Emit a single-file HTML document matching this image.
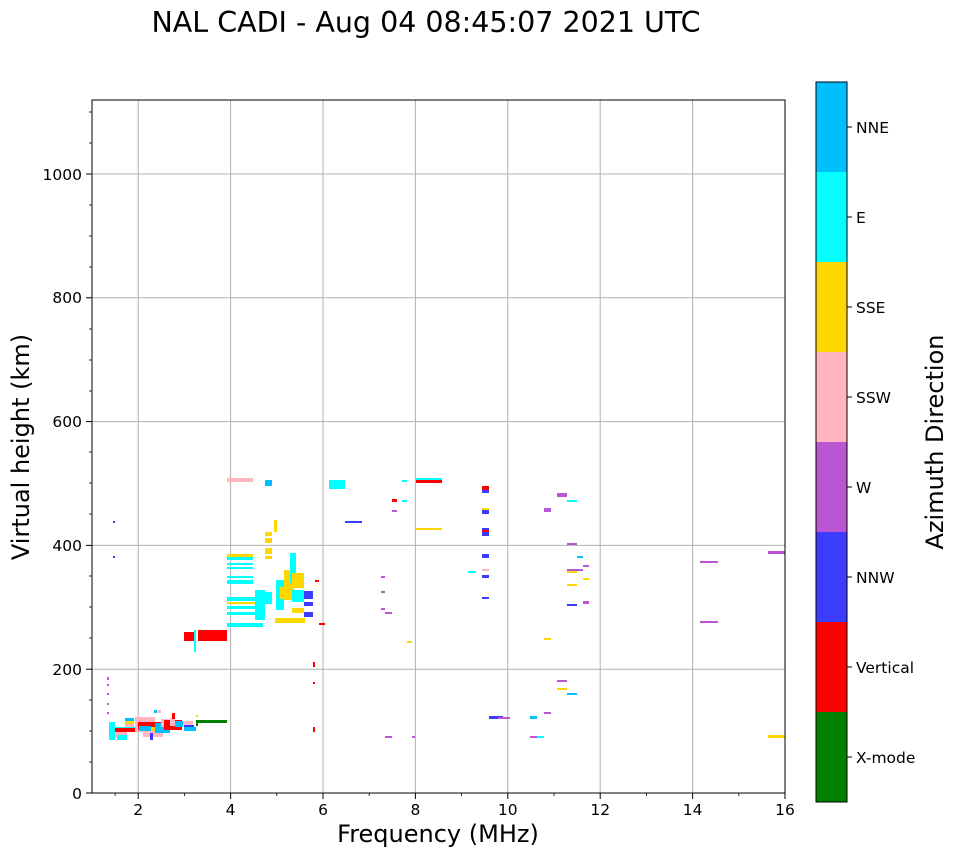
<!DOCTYPE html>
<html><head><meta charset="utf-8"><style>
body{margin:0;background:#fff;}
svg text{font-family:"DejaVu Sans","Liberation Sans",sans-serif;fill:#000;}
</style></head><body>
<svg width="958" height="857" xmlns="http://www.w3.org/2000/svg">
<rect width="958" height="857" fill="#fff"/>
<text x="426" y="32" font-size="28.5" text-anchor="middle">NAL CADI - Aug 04 08:45:07 2021 UTC</text>
<!-- grid -->
<g stroke="#b0b0b0" stroke-width="1">
<line x1="138.2" y1="100" x2="138.2" y2="793"/><line x1="230.6" y1="100" x2="230.6" y2="793"/>
<line x1="323" y1="100" x2="323" y2="793"/><line x1="415.4" y1="100" x2="415.4" y2="793"/>
<line x1="507.8" y1="100" x2="507.8" y2="793"/><line x1="600.2" y1="100" x2="600.2" y2="793"/>
<line x1="692.6" y1="100" x2="692.6" y2="793"/>
<line x1="92" y1="669.2" x2="785" y2="669.2"/><line x1="92" y1="545.4" x2="785" y2="545.4"/>
<line x1="92" y1="421.6" x2="785" y2="421.6"/><line x1="92" y1="297.8" x2="785" y2="297.8"/>
<line x1="92" y1="174" x2="785" y2="174"/>
</g>
<!-- data -->
<g>
<rect x="227" y="478" width="26" height="4" fill="#ffb6c1"/>
<rect x="265" y="480" width="7" height="6" fill="#00bfff"/>
<rect x="329" y="480" width="16" height="9" fill="#00ffff"/>
<rect x="184" y="632" width="11" height="9" fill="#ff0000"/>
<rect x="198" y="630" width="29" height="11" fill="#ff0000"/>
<rect x="194" y="630" width="2" height="22" fill="#00ffff"/>
<rect x="227" y="554" width="26" height="3" fill="#ffd700"/>
<rect x="227" y="557" width="26" height="3" fill="#00ffff"/>
<rect x="227" y="563" width="26" height="2" fill="#00ffff"/>
<rect x="227" y="567" width="26" height="2" fill="#00ffff"/>
<rect x="227" y="576" width="26" height="2" fill="#00ffff"/>
<rect x="227" y="580" width="26" height="4" fill="#00ffff"/>
<rect x="227" y="597" width="30" height="4" fill="#00ffff"/>
<rect x="227" y="602" width="30" height="2" fill="#ffd700"/>
<rect x="227" y="606" width="30" height="3" fill="#00ffff"/>
<rect x="227" y="612" width="30" height="3" fill="#00ffff"/>
<rect x="227" y="623" width="36" height="4" fill="#00ffff"/>
<rect x="255" y="590" width="10" height="30" fill="#00ffff"/>
<rect x="265" y="532" width="7" height="4" fill="#ffd700"/>
<rect x="265" y="538" width="7" height="5" fill="#ffd700"/>
<rect x="265" y="548" width="7" height="6" fill="#ffd700"/>
<rect x="265" y="556" width="7" height="3" fill="#ffd700"/>
<rect x="274" y="520" width="3" height="12" fill="#ffd700"/>
<rect x="257" y="592" width="15" height="12" fill="#00ffff"/>
<rect x="276" y="580" width="8" height="30" fill="#00ffff"/>
<rect x="280" y="587" width="7" height="12" fill="#ffd700"/>
<rect x="284" y="570" width="10" height="30" fill="#ffd700"/>
<rect x="290" y="553" width="6" height="30" fill="#00ffff"/>
<rect x="292" y="573" width="12" height="15" fill="#ffd700"/>
<rect x="292" y="590" width="12" height="12" fill="#00ffff"/>
<rect x="292" y="608" width="12" height="5" fill="#ffd700"/>
<rect x="304" y="591" width="9" height="8" fill="#3c3cff"/>
<rect x="304" y="602" width="9" height="4" fill="#3c3cff"/>
<rect x="304" y="612" width="9" height="5" fill="#3c3cff"/>
<rect x="275" y="618" width="30" height="5" fill="#ffd700"/>
<rect x="315" y="580" width="4" height="2" fill="#ff0000"/>
<rect x="319" y="623" width="6" height="2" fill="#ff0000"/>
<rect x="313" y="662" width="2" height="5" fill="#ff0000"/>
<rect x="313" y="682" width="2" height="2" fill="#ff0000"/>
<rect x="313" y="727" width="2" height="5" fill="#ff0000"/>
<rect x="113" y="521" width="2" height="2" fill="#3c3cff"/>
<rect x="113" y="556" width="2" height="2" fill="#3c3cff"/>
<rect x="345" y="521" width="17" height="2" fill="#3c3cff"/>
<rect x="107" y="677" width="2" height="3" fill="#ba55d3"/>
<rect x="107" y="684" width="2" height="2" fill="#ba55d3"/>
<rect x="107" y="693" width="2" height="2" fill="#ba55d3"/>
<rect x="107" y="703" width="2" height="2" fill="#ba55d3"/>
<rect x="107" y="712" width="2" height="2" fill="#ba55d3"/>
<!-- low cluster -->
<rect x="125" y="718" width="9" height="3" fill="#00bfff"/>
<rect x="125" y="721" width="9" height="3" fill="#ffd700"/>
<rect x="125" y="724" width="9" height="3" fill="#ffb6c1"/>
<rect x="110" y="727" width="25" height="5" fill="#00ffff"/>
<rect x="113" y="728" width="30" height="4" fill="#ff0000"/>
<rect x="115" y="732" width="12" height="6" fill="#ffb6c1"/>
<rect x="117" y="735" width="10" height="5" fill="#00ffff"/>
<rect x="109" y="722" width="6" height="18" fill="#00ffff"/>
<rect x="135" y="717" width="20" height="15" fill="#ffb6c1"/>
<rect x="138" y="722" width="23" height="8" fill="#ff0000"/>
<rect x="139" y="726" width="12" height="5" fill="#00bfff"/>
<rect x="143" y="732" width="20" height="5" fill="#ffb6c1"/>
<rect x="151" y="727" width="8" height="4" fill="#ffd700"/>
<rect x="155" y="723" width="15" height="10" fill="#00bfff"/>
<rect x="161" y="719" width="8" height="8" fill="#ffb6c1"/>
<rect x="164" y="720" width="18" height="10" fill="#ff0000"/>
<rect x="170" y="718" width="5" height="8" fill="#ffb6c1"/>
<rect x="175" y="721" width="8" height="6" fill="#00bfff"/>
<rect x="183" y="721" width="10" height="4" fill="#ffb6c1"/>
<rect x="184" y="725" width="10" height="4" fill="#3c3cff"/>
<rect x="184" y="727" width="12" height="4" fill="#00bfff"/>
<rect x="150" y="733" width="3" height="7" fill="#3c3cff"/>
<rect x="172" y="713" width="3" height="6" fill="#ff0000"/>
<rect x="154" y="710" width="3" height="3" fill="#00bfff"/>
<rect x="158" y="710" width="3" height="3" fill="#ffb6c1"/>
<rect x="196" y="720" width="31" height="3" fill="#008000"/>
<rect x="196" y="720" width="2" height="6" fill="#008000"/>
<rect x="196" y="715" width="2" height="2" fill="#ffd700"/>
<!-- right side -->
<rect x="416" y="478" width="26" height="2" fill="#00ffff"/>
<rect x="416" y="480" width="26" height="3" fill="#ff0000"/>
<rect x="392" y="499" width="5" height="3" fill="#ff0000"/>
<rect x="402" y="480" width="5" height="2" fill="#00ffff"/>
<rect x="402" y="500" width="5" height="2" fill="#00ffff"/>
<rect x="392" y="510" width="5" height="2" fill="#ba55d3"/>
<rect x="416" y="528" width="26" height="2" fill="#ffd700"/>
<rect x="482" y="486" width="7" height="4" fill="#ff0000"/>
<rect x="482" y="490" width="7" height="3" fill="#3c3cff"/>
<rect x="482" y="508" width="7" height="6" fill="#3c3cff"/>
<rect x="482" y="508" width="7" height="2" fill="#ffd700"/>
<rect x="482" y="528" width="7" height="8" fill="#3c3cff"/>
<rect x="482" y="530" width="7" height="2" fill="#ff0000"/>
<rect x="482" y="554" width="7" height="4" fill="#3c3cff"/>
<rect x="482" y="569" width="7" height="2" fill="#ffb6c1"/>
<rect x="482" y="575" width="7" height="3" fill="#3c3cff"/>
<rect x="482" y="597" width="7" height="2" fill="#3c3cff"/>
<rect x="468" y="571" width="8" height="2" fill="#00ffff"/>
<rect x="557" y="493" width="10" height="4" fill="#ba55d3"/>
<rect x="567" y="500" width="10" height="2" fill="#00ffff"/>
<rect x="544" y="508" width="7" height="4" fill="#ba55d3"/>
<rect x="567" y="543" width="10" height="2" fill="#ba55d3"/>
<rect x="577" y="556" width="6" height="2" fill="#00bfff"/>
<rect x="583" y="565" width="6" height="2" fill="#ba55d3"/>
<rect x="567" y="569" width="16" height="2" fill="#ba55d3"/>
<rect x="567" y="571" width="10" height="2" fill="#ffd700"/>
<rect x="583" y="578" width="6" height="2" fill="#ffd700"/>
<rect x="567" y="584" width="10" height="2" fill="#ffd700"/>
<rect x="567" y="604" width="10" height="2" fill="#3c3cff"/>
<rect x="583" y="601" width="6" height="3" fill="#ba55d3"/>
<rect x="381" y="576" width="4" height="2" fill="#ba55d3"/>
<rect x="381" y="591" width="4" height="2" fill="#ba55d3"/>
<rect x="381" y="608" width="4" height="2" fill="#ba55d3"/>
<rect x="385" y="612" width="7" height="2" fill="#ba55d3"/>
<rect x="407" y="641" width="5" height="2" fill="#ffd700"/>
<rect x="544" y="638" width="7" height="2" fill="#ffd700"/>
<rect x="557" y="680" width="10" height="2" fill="#ba55d3"/>
<rect x="557" y="688" width="10" height="2" fill="#ffd700"/>
<rect x="567" y="693" width="10" height="2" fill="#00bfff"/>
<rect x="489" y="716" width="14" height="3" fill="#3c3cff"/>
<rect x="498" y="717" width="12" height="2" fill="#ba55d3"/>
<rect x="530" y="716" width="7" height="3" fill="#00bfff"/>
<rect x="544" y="712" width="7" height="2" fill="#ba55d3"/>
<rect x="385" y="736" width="7" height="2" fill="#ba55d3"/>
<rect x="412" y="736" width="3" height="2" fill="#ba55d3"/>
<rect x="530" y="736" width="7" height="2" fill="#ba55d3"/>
<rect x="537" y="736" width="7" height="2" fill="#00ffff"/>
<rect x="700" y="561" width="18" height="2" fill="#ba55d3"/>
<rect x="700" y="621" width="18" height="2" fill="#ba55d3"/>
<rect x="768" y="551" width="17" height="3" fill="#ba55d3"/>
<rect x="768" y="735" width="17" height="3" fill="#ffd700"/>
</g>
<!-- axes frame -->
<rect x="92" y="100" width="693" height="693" fill="none" stroke="#000" stroke-width="1"/>
<g stroke="#000" stroke-width="1">
<line x1="138.2" y1="793" x2="138.2" y2="799"/><line x1="230.6" y1="793" x2="230.6" y2="799"/>
<line x1="323" y1="793" x2="323" y2="799"/><line x1="415.4" y1="793" x2="415.4" y2="799"/>
<line x1="507.8" y1="793" x2="507.8" y2="799"/><line x1="600.2" y1="793" x2="600.2" y2="799"/>
<line x1="692.6" y1="793" x2="692.6" y2="799"/><line x1="785" y1="793" x2="785" y2="799"/>
<line x1="86" y1="793" x2="92" y2="793"/><line x1="86" y1="669.2" x2="92" y2="669.2"/>
<line x1="86" y1="545.4" x2="92" y2="545.4"/><line x1="86" y1="421.6" x2="92" y2="421.6"/>
<line x1="86" y1="297.8" x2="92" y2="297.8"/><line x1="86" y1="174" x2="92" y2="174"/>
</g>
<g stroke="#000" stroke-width="0.8">
<line x1="115.1" y1="793" x2="115.1" y2="796"/><line x1="184.4" y1="793" x2="184.4" y2="796"/>
<line x1="276.8" y1="793" x2="276.8" y2="796"/><line x1="369.2" y1="793" x2="369.2" y2="796"/>
<line x1="461.6" y1="793" x2="461.6" y2="796"/><line x1="554" y1="793" x2="554" y2="796"/>
<line x1="646.4" y1="793" x2="646.4" y2="796"/><line x1="738.8" y1="793" x2="738.8" y2="796"/>
<line x1="89" y1="762" x2="92" y2="762"/><line x1="89" y1="731" x2="92" y2="731"/><line x1="89" y1="700" x2="92" y2="700"/>
<line x1="89" y1="638" x2="92" y2="638"/><line x1="89" y1="607" x2="92" y2="607"/><line x1="89" y1="576" x2="92" y2="576"/>
<line x1="89" y1="514" x2="92" y2="514"/><line x1="89" y1="483" x2="92" y2="483"/><line x1="89" y1="452" x2="92" y2="452"/>
<line x1="89" y1="391" x2="92" y2="391"/><line x1="89" y1="360" x2="92" y2="360"/><line x1="89" y1="329" x2="92" y2="329"/>
<line x1="89" y1="267" x2="92" y2="267"/><line x1="89" y1="236" x2="92" y2="236"/><line x1="89" y1="205" x2="92" y2="205"/>
<line x1="89" y1="143" x2="92" y2="143"/><line x1="89" y1="112" x2="92" y2="112"/>
</g>
<g font-size="15.5" text-anchor="middle">
<text x="138.2" y="815">2</text><text x="230.6" y="815">4</text><text x="323" y="815">6</text>
<text x="415.4" y="815">8</text><text x="507.8" y="815">10</text><text x="600.2" y="815">12</text>
<text x="692.6" y="815">14</text><text x="785" y="815">16</text>
</g>
<g font-size="15.5" text-anchor="end">
<text x="82" y="799">0</text><text x="82" y="675">200</text><text x="82" y="551">400</text>
<text x="82" y="427">600</text><text x="82" y="303">800</text><text x="82" y="180">1000</text>
</g>
<text x="438" y="842" font-size="24" text-anchor="middle">Frequency (MHz)</text>
<text transform="translate(29,447) rotate(-90)" font-size="24" text-anchor="middle">Virtual height (km)</text>
<!-- colorbar -->
<rect x="816" y="82" width="31" height="90" fill="#00bfff"/>
<rect x="816" y="172" width="31" height="90" fill="#00ffff"/>
<rect x="816" y="262" width="31" height="90" fill="#ffd700"/>
<rect x="816" y="352" width="31" height="90" fill="#ffb6c1"/>
<rect x="816" y="442" width="31" height="90" fill="#ba55d3"/>
<rect x="816" y="532" width="31" height="90" fill="#3c3cff"/>
<rect x="816" y="622" width="31" height="90" fill="#ff0000"/>
<rect x="816" y="712" width="31" height="90" fill="#008000"/>
<rect x="816" y="82" width="31" height="720" fill="none" stroke="#000" stroke-width="1"/>
<g stroke="#000"><line x1="847" y1="127" x2="852" y2="127"/><line x1="847" y1="217" x2="852" y2="217"/><line x1="847" y1="307" x2="852" y2="307"/><line x1="847" y1="397" x2="852" y2="397"/><line x1="847" y1="487" x2="852" y2="487"/><line x1="847" y1="577" x2="852" y2="577"/><line x1="847" y1="667" x2="852" y2="667"/><line x1="847" y1="757" x2="852" y2="757"/></g>
<g font-size="15.5">
<text x="856" y="133">NNE</text><text x="856" y="223">E</text><text x="856" y="313">SSE</text>
<text x="856" y="403">SSW</text><text x="856" y="493">W</text><text x="856" y="583">NNW</text>
<text x="856" y="673">Vertical</text><text x="856" y="763">X-mode</text>
</g>
<text transform="translate(943,442) rotate(-90)" font-size="24" text-anchor="middle">Azimuth Direction</text>
</svg>
</body></html>
